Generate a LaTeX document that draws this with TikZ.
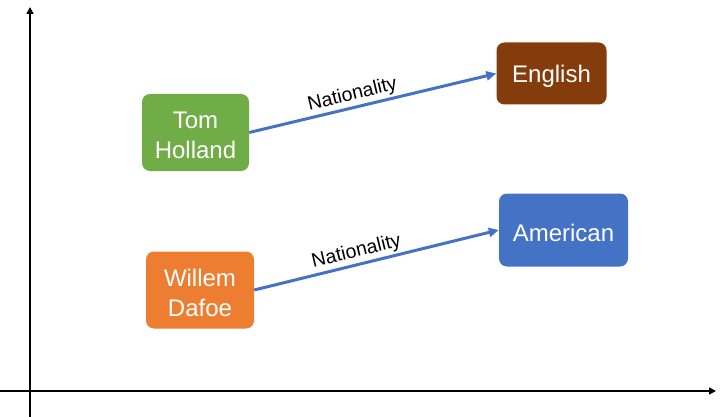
\documentclass[tikz,border=0pt]{standalone}
\usepackage{fontspec}
\setmainfont{Liberation Sans}
\usetikzlibrary{arrows.meta}
\definecolor{cgreen}{HTML}{70AD47}
\definecolor{cbrown}{HTML}{843C0C}
\definecolor{corange}{HTML}{ED7D31}
\definecolor{cblue}{HTML}{4472C4}
\begin{document}
\begin{tikzpicture}[x=1pt,y=-1pt,
  box/.style={rounded corners=8pt, inner sep=0pt},
  boxtext/.style={text=white, align=center, inner sep=0pt,
    font=\fontsize{24}{30}\selectfont, yshift=-2.5pt},
  rel/.style={cblue, line width=3pt, -{Triangle[length=10pt,width=9pt]}},
  lab/.style={font=\fontsize{19.5}{22}\selectfont, text=black, inner sep=2pt},
  axis/.style={black, line width=1.5pt, -{Triangle[length=7pt,width=7pt]}}]
\useasboundingbox (0,0) rectangle (720,417);
\coordinate (ytop) at (30,7);
\coordinate (ybot) at (30,417);
\coordinate (xl) at (0,391);
\coordinate (xr) at (716,391);
\draw[axis] (ybot) -- (ytop);
\draw[axis] (xl) -- (xr);
\node[box, fill=cgreen, minimum width=107pt, minimum height=77pt] (th) at (195.5,132.5) {};
\node[box, fill=cbrown, minimum width=110pt, minimum height=62pt] (en) at (551.5,73.5) {};
\node[box, fill=corange, minimum width=108pt, minimum height=77pt] (wd) at (200,290) {};
\node[box, fill=cblue, minimum width=129pt, minimum height=73pt] (am) at (563.5,230) {};
\node[boxtext] (tht) at (th.center) {Tom\\Holland};
\node[boxtext] (ent) at (en.center) {English};
\node[boxtext] (wdt) at (wd.center) {Willem\\Dafoe};
\node[boxtext] (amt) at (am.center) {American};
\draw[rel] (th.east) -- node[lab, sloped, above, pos=0.43] {Nationality} (en.west);
\draw[rel] (wd.east) -- node[lab, sloped, above, pos=0.43] {Nationality} (am.west);
\end{tikzpicture}
\end{document}
